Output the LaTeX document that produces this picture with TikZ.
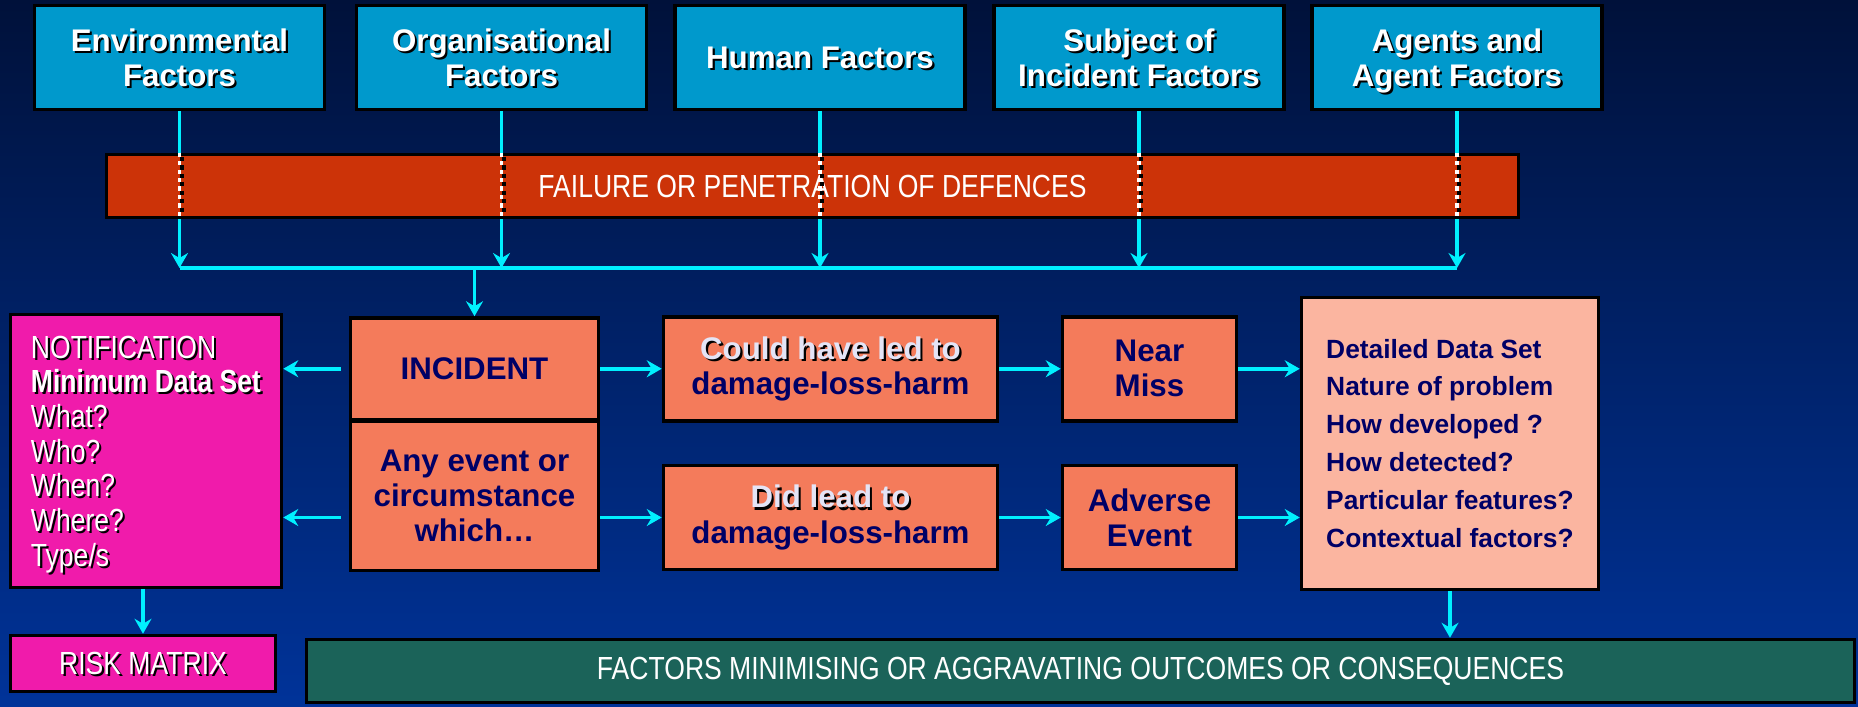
\documentclass[tikz,border=0pt]{standalone}
\usepackage{fontspec}
\setmainfont{Liberation Sans}
\newfontfamily\narrowfont[FakeStretch=0.83]{Liberation Sans}
\usepackage{xcolor}
\usetikzlibrary{arrows.meta}
\usetikzlibrary{positioning}

\definecolor{factorblue}{HTML}{0099CC}
\definecolor{defencered}{HTML}{CC3308}
\definecolor{notifpink}{HTML}{F01BAB}
\definecolor{eventsalmon}{HTML}{F47B5B}
\definecolor{detailpink}{HTML}{FBB5A0}
\definecolor{outcomegreen}{HTML}{1B6359}
\definecolor{flowcyan}{HTML}{00F0FF}
\definecolor{navytext}{HTML}{000066}
\definecolor{palelilac}{HTML}{E4E4F6}
\definecolor{bgtop}{HTML}{00113A}
\definecolor{bgmid}{HTML}{00297E}
\definecolor{bgbot}{HTML}{003399}

\newcommand\shadowed[1]{\raisebox{0pt}[\height][0pt]{\makebox[0pt][l]{\hspace{0.6pt}\raisebox{-0.6pt}{\textcolor{black}{#1}}}#1}}
\newcommand\boldlabel{\fontsize{8.9}{10}\selectfont\bfseries}
\newcommand\narrowlabel{\narrowfont\fontsize{9.1}{9.87}\selectfont}

\tikzset{
    box/.style={draw=black, line width=1pt, inner sep=0pt, align=center},
    factor/.style={box, fill=factorblue, text=white, font=\boldlabel,
        minimum width=2.9cm, minimum height=1.04cm},
    event/.style={box, fill=eventsalmon, text=navytext, font=\boldlabel,
        minimum height=1.04cm},
    flow/.style={draw=flowcyan, line width=1pt,
        -{Stealth[length=0.15cm, width=0.17cm, inset=0.05cm]}},
    link/.style={draw=flowcyan, line width=1pt},
    pierce/.style={draw=white, line width=1.1pt, dash pattern=on 1.2pt off 1.2pt},
    pierceshade/.style={draw=black, line width=1.1pt, dash pattern=on 1.2pt off 1.2pt,
        dash phase=1.2pt}
}

\begin{document}
\begin{tikzpicture}
        \useasboundingbox (0,0) rectangle (18.58,7.06);
        \shade[top color=bgtop, middle color=bgmid, bottom color=bgbot] (0,0) rectangle (18.58,7.06);

        \node[factor] (env) at (1.795,6.485) {\shadowed{Environmental}\\\shadowed{Factors}};
        \node[factor] (org) at (5.015,6.485) {\shadowed{Organisational}\\\shadowed{Factors}};
        \node[factor] (human) at (8.20,6.485) {\shadowed{Human Factors}};
        \node[factor] (subject) at (11.39,6.485) {\shadowed{Subject of}\\\shadowed{Incident Factors}};
        \node[factor] (agents) at (14.57,6.485) {\shadowed{Agents and}\\\shadowed{Agent Factors}};

        \coordinate (jl) at (0,4.38);
        \draw[flow] (env.south) -- (env.south |- jl);
        \draw[flow] (org.south) -- (org.south |- jl);
        \draw[flow] (human.south) -- (human.south |- jl);
        \draw[flow] (subject.south) -- (subject.south |- jl);
        \draw[flow] (agents.south) -- (agents.south |- jl);
        \draw[link] (env.south |- jl) -- (agents.south |- jl);

        \node[box, fill=defencered, text=white, font=\narrowlabel, minimum width=14.12cm,
            minimum height=0.63cm] (bar) at (8.125,5.20) {FAILURE OR PENETRATION OF DEFENCES};
        \draw[pierceshade] ([xshift=0.6pt]env.south |- bar.north) -- ([xshift=0.6pt]env.south |- bar.south);
        \draw[pierce] (env.south |- bar.north) -- (env.south |- bar.south);
        \draw[pierceshade] ([xshift=0.6pt]org.south |- bar.north) -- ([xshift=0.6pt]org.south |- bar.south);
        \draw[pierce] (org.south |- bar.north) -- (org.south |- bar.south);
        \draw[pierceshade] ([xshift=0.6pt]human.south |- bar.north) -- ([xshift=0.6pt]human.south |- bar.south);
        \draw[pierce] (human.south |- bar.north) -- (human.south |- bar.south);
        \draw[pierceshade] ([xshift=0.6pt]subject.south |- bar.north) -- ([xshift=0.6pt]subject.south |- bar.south);
        \draw[pierce] (subject.south |- bar.north) -- (subject.south |- bar.south);
        \draw[pierceshade] ([xshift=0.6pt]agents.south |- bar.north) -- ([xshift=0.6pt]agents.south |- bar.south);
        \draw[pierce] (agents.south |- bar.north) -- (agents.south |- bar.south);

        \node[event, minimum width=2.48cm, minimum height=1.015cm] (incident) at (4.745,3.3725) {INCIDENT};
        \node[event, minimum width=2.48cm, minimum height=1.49cm, below=-0.5pt of incident] (anyevent)
            {Any event or\\circumstance\\which…};
        \draw[flow] (incident.north |- jl) -- (incident.north);

        \node[box, fill=notifpink, text=white, font=\narrowlabel, align=left, minimum width=2.71cm,
            minimum height=2.73cm] (notif) at (1.46,2.55)
            {\shadowed{NOTIFICATION}\\\textbf{\shadowed{Minimum Data Set}}\\\shadowed{What?}\\\shadowed{Who?}\\\shadowed{When?}\\\shadowed{Where?}\\\shadowed{Type/s}};
        \node[box, fill=notifpink, text=white, font=\narrowlabel, minimum width=2.65cm,
            minimum height=0.56cm] (risk) at (1.43,0.425) {\shadowed{RISK MATRIX}};

        \node[event, minimum width=3.34cm] (could) at (8.305,3.3725)
            {\textcolor{palelilac}{\shadowed{Could have led to}}\\damage-loss-harm};
        \node[event, minimum width=1.74cm] (near) at (11.495,3.3725) {Near\\Miss};
        \node[event, minimum width=3.34cm] (did) at (8.305,1.885)
            {\textcolor{palelilac}{\shadowed{Did lead to}}\\damage-loss-harm};
        \node[event, minimum width=1.74cm] (adverse) at (11.495,1.885) {Adverse\\Event};

        \node[box, fill=detailpink, text=navytext, font=\fontsize{7.5}{10.8}\selectfont\bfseries,
            align=left, minimum width=2.97cm, minimum height=2.92cm] (detail) at (14.50,2.625)
            {Detailed Data Set\\Nature of problem\\How developed ?\\How detected?\\Particular features?\\Contextual factors?};

        \node[box, fill=outcomegreen, text=white, font=\narrowlabel, minimum width=15.48cm,
            minimum height=0.63cm] (outcome) at (10.805,0.35)
            {FACTORS MINIMISING OR AGGRAVATING OUTCOMES OR CONSEQUENCES};

        \draw[flow, shorten <=0.08cm] (incident.west) -- (incident.west -| notif.east);
        \draw[flow, shorten <=0.08cm] (did.west -| anyevent.west) -- (did.west -| notif.east);
        \draw[flow] (incident.east) -- (could.west);
        \draw[flow] (did.west -| anyevent.east) -- (did.west);
        \draw[flow] (could.east) -- (near.west);
        \draw[flow] (did.east) -- (adverse.west);
        \draw[flow] (near.east) -- (near.east -| detail.west);
        \draw[flow] (adverse.east) -- (adverse.east -| detail.west);
        \draw[flow] (risk.north |- notif.south) -- (risk.north);
        \draw[flow] (detail.south) -- (detail.south |- outcome.north);
\end{tikzpicture}
\end{document}
